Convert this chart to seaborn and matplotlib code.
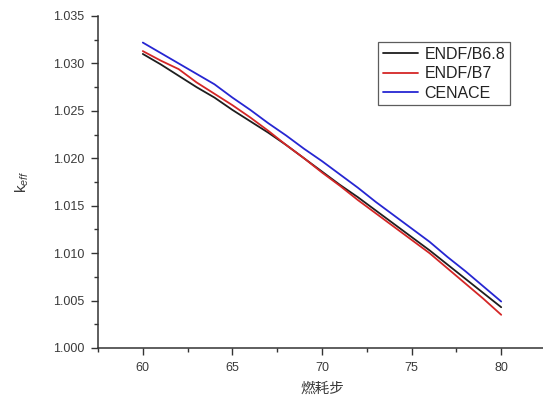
import matplotlib
matplotlib.use("Agg")
import matplotlib.pyplot as plt
import matplotlib.ticker as mticker
import numpy as np
import pandas as pd
import seaborn as sns

# Burnup steps and k_eff values
steps = list(range(60, 81))
keff_b68 = [1.0310, 1.0299, 1.0287, 1.0275, 1.0264, 1.0251, 1.0239, 1.0227,
            1.0214, 1.0200, 1.0186, 1.0172, 1.0159, 1.0145, 1.0131, 1.0117,
            1.0103, 1.0088, 1.0073, 1.0058, 1.0043]
keff_b7 = [1.0313, 1.0303, 1.0294, 1.0280, 1.0268, 1.0256, 1.0243, 1.0229,
           1.0214, 1.0200, 1.0185, 1.0171, 1.0156, 1.0142, 1.0128, 1.0114,
           1.0100, 1.0084, 1.0068, 1.0052, 1.0035]
keff_cenace = [1.0322, 1.0311, 1.0300, 1.0289, 1.0278, 1.0264, 1.0251, 1.0237,
               1.0224, 1.0210, 1.0197, 1.0183, 1.0169, 1.0154, 1.0140, 1.0126,
               1.0112, 1.0096, 1.0081, 1.0065, 1.0049]
series_names = ["ENDF/B6.8", "ENDF/B7", "CENACE"]
palette = ["#1e1e1e", "#d42626", "#2626d2"]

df = pd.DataFrame({
    "step": steps * 3,
    "keff": keff_b68 + keff_b7 + keff_cenace,
    "library": np.repeat(series_names, len(steps)),
})

sns.set_style("ticks")
plt.rcParams["font.family"] = ["Liberation Sans", "Noto Sans CJK SC", "DejaVu Sans"]
plt.rcParams["mathtext.fontset"] = "custom"
plt.rcParams["mathtext.rm"] = "Liberation Sans"
plt.rcParams["mathtext.it"] = "Liberation Sans:italic"

txt = "#3a3a3a"
fig = plt.figure(figsize=(5.43, 3.96), dpi=100)
# axes run a bit past the right edge, as in the (cropped) reference
ax = fig.add_axes([98 / 543, 1 - 348 / 396, 448 / 543, 332 / 396])

sns.lineplot(data=df, x="step", y="keff", hue="library", hue_order=series_names,
             palette=palette, linewidth=1.3, ax=ax)

ax.set_xlim(57.5, 82.5)
ax.set_ylim(1.000, 1.035)
ax.xaxis.set_major_locator(mticker.MultipleLocator(5))
ax.xaxis.set_minor_locator(mticker.MultipleLocator(2.5))
ax.yaxis.set_major_locator(mticker.MultipleLocator(0.005))
ax.yaxis.set_minor_locator(mticker.MultipleLocator(0.0025))
ax.yaxis.set_major_formatter(mticker.FormatStrFormatter("%.3f"))

for side in ["top", "right"]:
    ax.spines[side].set_visible(False)
for side in ["left", "bottom"]:
    ax.spines[side].set_color("#333333")
    ax.spines[side].set_linewidth(1.1)
ax.tick_params(which="major", direction="out", length=5, width=1.0,
               color="#333333", labelsize=9, labelcolor=txt, pad=5)
ax.tick_params(which="minor", direction="out", length=3, width=1.0,
               color="#333333")

ax.set_xlabel("燃耗步", fontsize=10.5, color=txt, family=["Noto Sans CJK SC"],
              labelpad=6)
ax.set_ylabel(r"k$_{eff}$", fontsize=11, color=txt, labelpad=16)

leg = ax.legend(loc="upper left", bbox_to_anchor=(0.625, 0.922), borderaxespad=0,
                fontsize=11.5, frameon=True, fancybox=False, handlelength=2.2,
                handletextpad=0.4, labelspacing=0.28, borderpad=0.3)
leg.get_frame().set_edgecolor("#333333")
leg.get_frame().set_linewidth(0.9)
for t in leg.get_texts():
    t.set_color("#222222")

fig.savefig("out.png", dpi=100)
